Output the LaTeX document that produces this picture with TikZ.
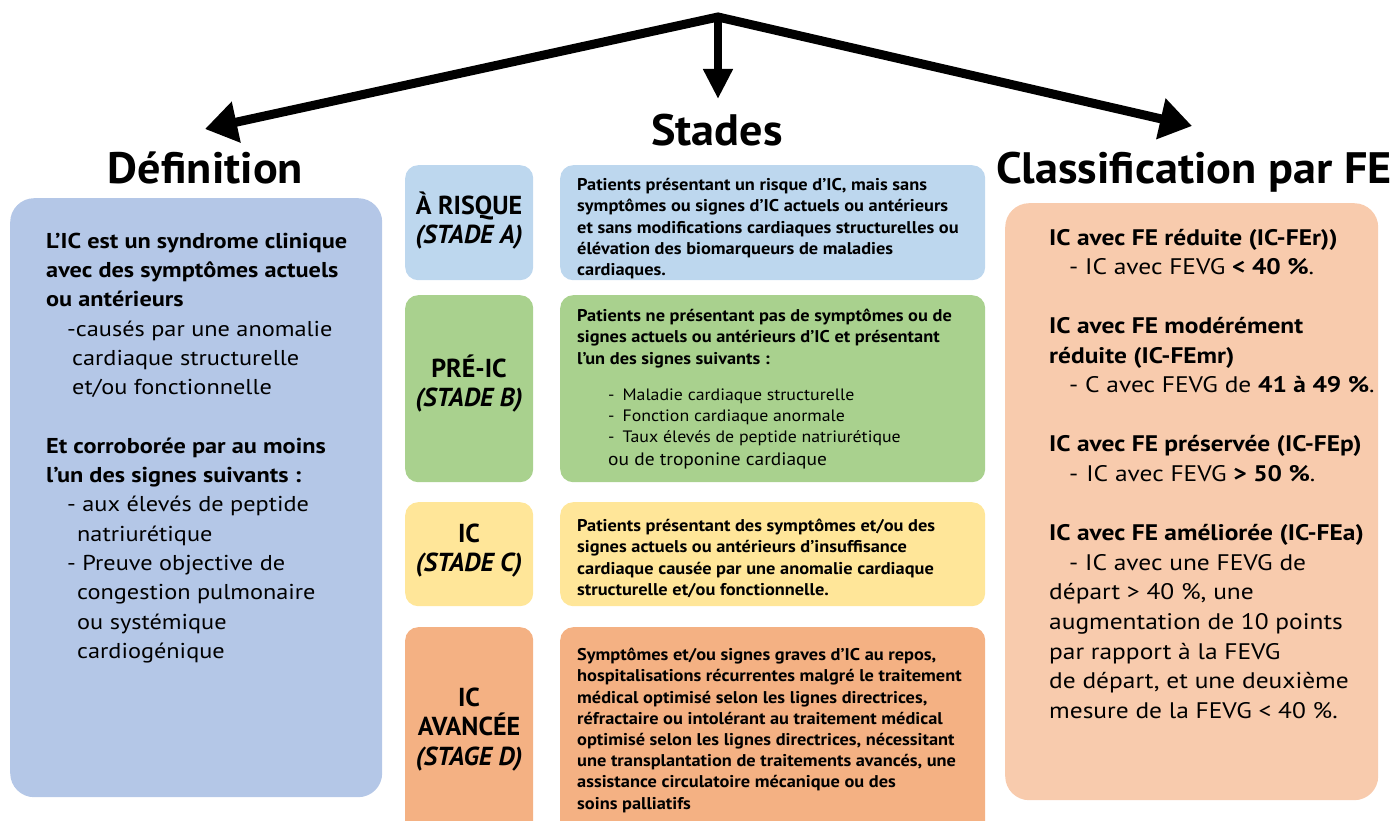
\documentclass[tikz,border=0pt]{standalone}
\usepackage{fontspec}
\setmainfont{PT Sans}
\newfontfamily\sidefont[FakeStretch=1.13]{PT Sans}
\newfontfamily\titlefont[FakeStretch=1.05]{PT Sans}
\newfontfamily\descfont[FakeStretch=1.08]{PT Sans}
\usetikzlibrary{arrows.meta}
\definecolor{defblue}{HTML}{B4C7E7}
\definecolor{fepeach}{HTML}{F8CBAD}
\definecolor{stA}{HTML}{BDD7EE}
\definecolor{stB}{HTML}{A9D18E}
\definecolor{stC}{HTML}{FFE699}
\definecolor{stD}{HTML}{F4B183}
\newcommand{\tst}{\rule{0pt}{1em}}
\tikzset{
  bigbox/.style={rounded corners=24pt, inner sep=0pt, anchor=north west},
  stbox/.style={rounded corners=13pt, inner sep=0pt, anchor=north west},
  ttl/.style={font=\titlefont\bfseries\fontsize{44}{52}\selectfont, inner sep=0pt, anchor=base},
  sidetxt/.style={font=\sidefont\fontsize{21.5}{29.3}\selectfont, align=left, inner sep=0pt, anchor=north west},
  righttxt/.style={font=\sidefont\fontsize{22.5}{29.6}\selectfont, align=left, inner sep=0pt, anchor=north west},
  desctxt/.style={font=\descfont\bfseries\fontsize{17}{21.2}\selectfont, align=left, inner sep=0pt, anchor=north west},
  labtxt/.style={font=\bfseries\fontsize{26}{29.5}\selectfont, align=center, inner sep=0pt, anchor=north},
  bigarrow/.style={line width=9pt, line join=miter, {Triangle[length=32pt,width=40pt]}-{Triangle[length=32pt,width=40pt]}},
  downarrow/.style={line width=8pt, -{Triangle[length=30pt,width=28pt]}}
}
\newcommand{\itm}[1]{{\mdseries\fontsize{16.5}{21.2}\selectfont #1}}
\newcommand{\itmb}[1]{{\mdseries\fontsize{18}{21.2}\selectfont #1}}
\begin{document}
\begin{tikzpicture}[x=1pt,y=-1pt]
\useasboundingbox (0,0) rectangle (1395,821);
% titles
\node[ttl] (def) at (205.5,184) {Définition};
\node[ttl] (stades) at (717,146) {Stades};
\node[ttl] (classif) at (1194,184) {Classification par FE};
% arrows
\coordinate (apex) at (718,17);
\coordinate (tipL) at (205,129);
\coordinate (tipR) at (1192,126);
\coordinate (tipC) at (718,99);
\draw[bigarrow] (tipL) -- (apex) -- (tipR);
\draw[downarrow] (apex) -- (tipC);
% side boxes
\node[bigbox, fill=defblue, minimum width=372pt, minimum height=599pt] (defbox) at (10,198) {};
\node[bigbox, fill=fepeach, minimum width=373pt, minimum height=597pt] (febox) at (1005,203) {};
% stage boxes
\node[stbox, fill=stA, minimum width=128pt, minimum height=115pt] (labA) at (405,165) {};
\node[stbox, fill=stA, minimum width=425pt, minimum height=115pt] (descA) at (560,165) {};
\node[stbox, fill=stB, minimum width=128pt, minimum height=187pt] (labB) at (405,295) {};
\node[stbox, fill=stB, minimum width=425pt, minimum height=187pt] (descB) at (560,295) {};
\node[stbox, fill=stC, minimum width=128pt, minimum height=104pt] (labC) at (405,502) {};
\node[stbox, fill=stC, minimum width=425pt, minimum height=104pt] (descC) at (560,502) {};
\node[stbox, fill=stD, minimum width=128pt, minimum height=215pt] (labD) at (405,627) {};
\node[stbox, fill=stD, minimum width=425pt, minimum height=215pt] (descD) at (560,627) {};
% left text
\node[sidetxt] (deftext) at (46,226.5) {\tst\textbf{L’IC est un syndrome clinique}\\
\textbf{avec des symptômes actuels}\\
\textbf{ou antérieurs}\\
\hspace*{21pt}-causés par une anomalie\\
\hspace*{26pt}cardiaque structurelle\\
\hspace*{26pt}et/ou fonctionnelle\\[29.3pt]
\textbf{Et corroborée par au moins}\\
\textbf{l’un des signes suivants :}\\
\hspace*{21pt}- aux élevés de peptide\\
\hspace*{31pt}natriurétique\\
\hspace*{21pt}- Preuve objective de\\
\hspace*{31pt}congestion pulmonaire\\
\hspace*{31pt}ou systémique\\
\hspace*{31pt}cardiogénique};
% right text
\node[righttxt] (fetext) at (1049,222.5) {\tst\textbf{IC avec FE réduite (IC-FEr))}\\
\hspace*{20pt}- IC avec FEVG \textbf{< 40 \%}.\\[29.3pt]
\textbf{IC avec FE modérément}\\
\textbf{réduite (IC-FEmr)}\\
\hspace*{20pt}- C avec FEVG de \textbf{41 à 49 \%}.\\[29.3pt]
\textbf{IC avec FE préservée (IC-FEp)}\\
\hspace*{20pt}-\hspace*{8pt}IC avec FEVG \textbf{> 50 \%}.\\[29.6pt]
\textbf{IC avec FE améliorée (IC-FEa)}\\
\hspace*{20pt}- IC avec une FEVG de\\
départ > 40 \%, une\\
augmentation de 10 points\\
par rapport à la FEVG\\
de départ, et une deuxième\\
mesure de la FEVG < 40 \%.};
% stage labels
\node[labtxt] (labAt) at (469,188) {\tst À RISQUE\\ \textit{(STADE A)}};
\node[labtxt] (labBt) at (469,351) {\tst PRÉ-IC\\ \textit{(STADE B)}};
\node[labtxt] (labCt) at (469,516) {\tst IC\\ \textit{(STADE C)}};
\node[labtxt] (labDt) at (469,680) {\tst IC\\ AVANCÉE\\ \textit{(STAGE D)}};
% descriptions
\node[desctxt] (descAt) at (577,173.5) {\tst Patients présentant un risque d’IC, mais sans\\
symptômes ou signes d’IC actuels ou antérieurs\\
et sans modifications cardiaques structurelles ou\\
élévation des biomarqueurs de maladies\\
cardiaques.};
\node[desctxt] (descBt) at (577,304.5) {\tst Patients ne présentant pas de symptômes ou de\\
signes actuels ou antérieurs d’IC et présentant\\
l’un des signes suivants :\\[15pt]
\itm{\hspace*{31pt}-\hspace*{8pt}Maladie cardiaque structurelle}\\
\itm{\hspace*{31pt}-\hspace*{8pt}Fonction cardiaque anormale}\\
\itm{\hspace*{31pt}-\hspace*{8pt}Taux élevés de peptide natriurétique}\\[2pt]
\itmb{\hspace*{31pt}ou de troponine cardiaque}};
\node[desctxt] (descCt) at (577,514.5) {\tst Patients présentant des symptômes et/ou des\\
signes actuels ou antérieurs d’insuffisance\\
cardiaque causée par une anomalie cardiaque\\
structurelle et/ou fonctionnelle.};
\node[desctxt] (descDt) at (577,643.5) {\tst Symptômes et/ou signes graves d’IC au repos,\\
hospitalisations récurrentes malgré le traitement\\
médical optimisé selon les lignes directrices,\\
réfractaire ou intolérant au traitement médical\\
optimisé selon les lignes directrices, nécessitant\\
une transplantation de traitements avancés, une\\
assistance circulatoire mécanique ou des\\
soins palliatifs};
\end{tikzpicture}
\end{document}
